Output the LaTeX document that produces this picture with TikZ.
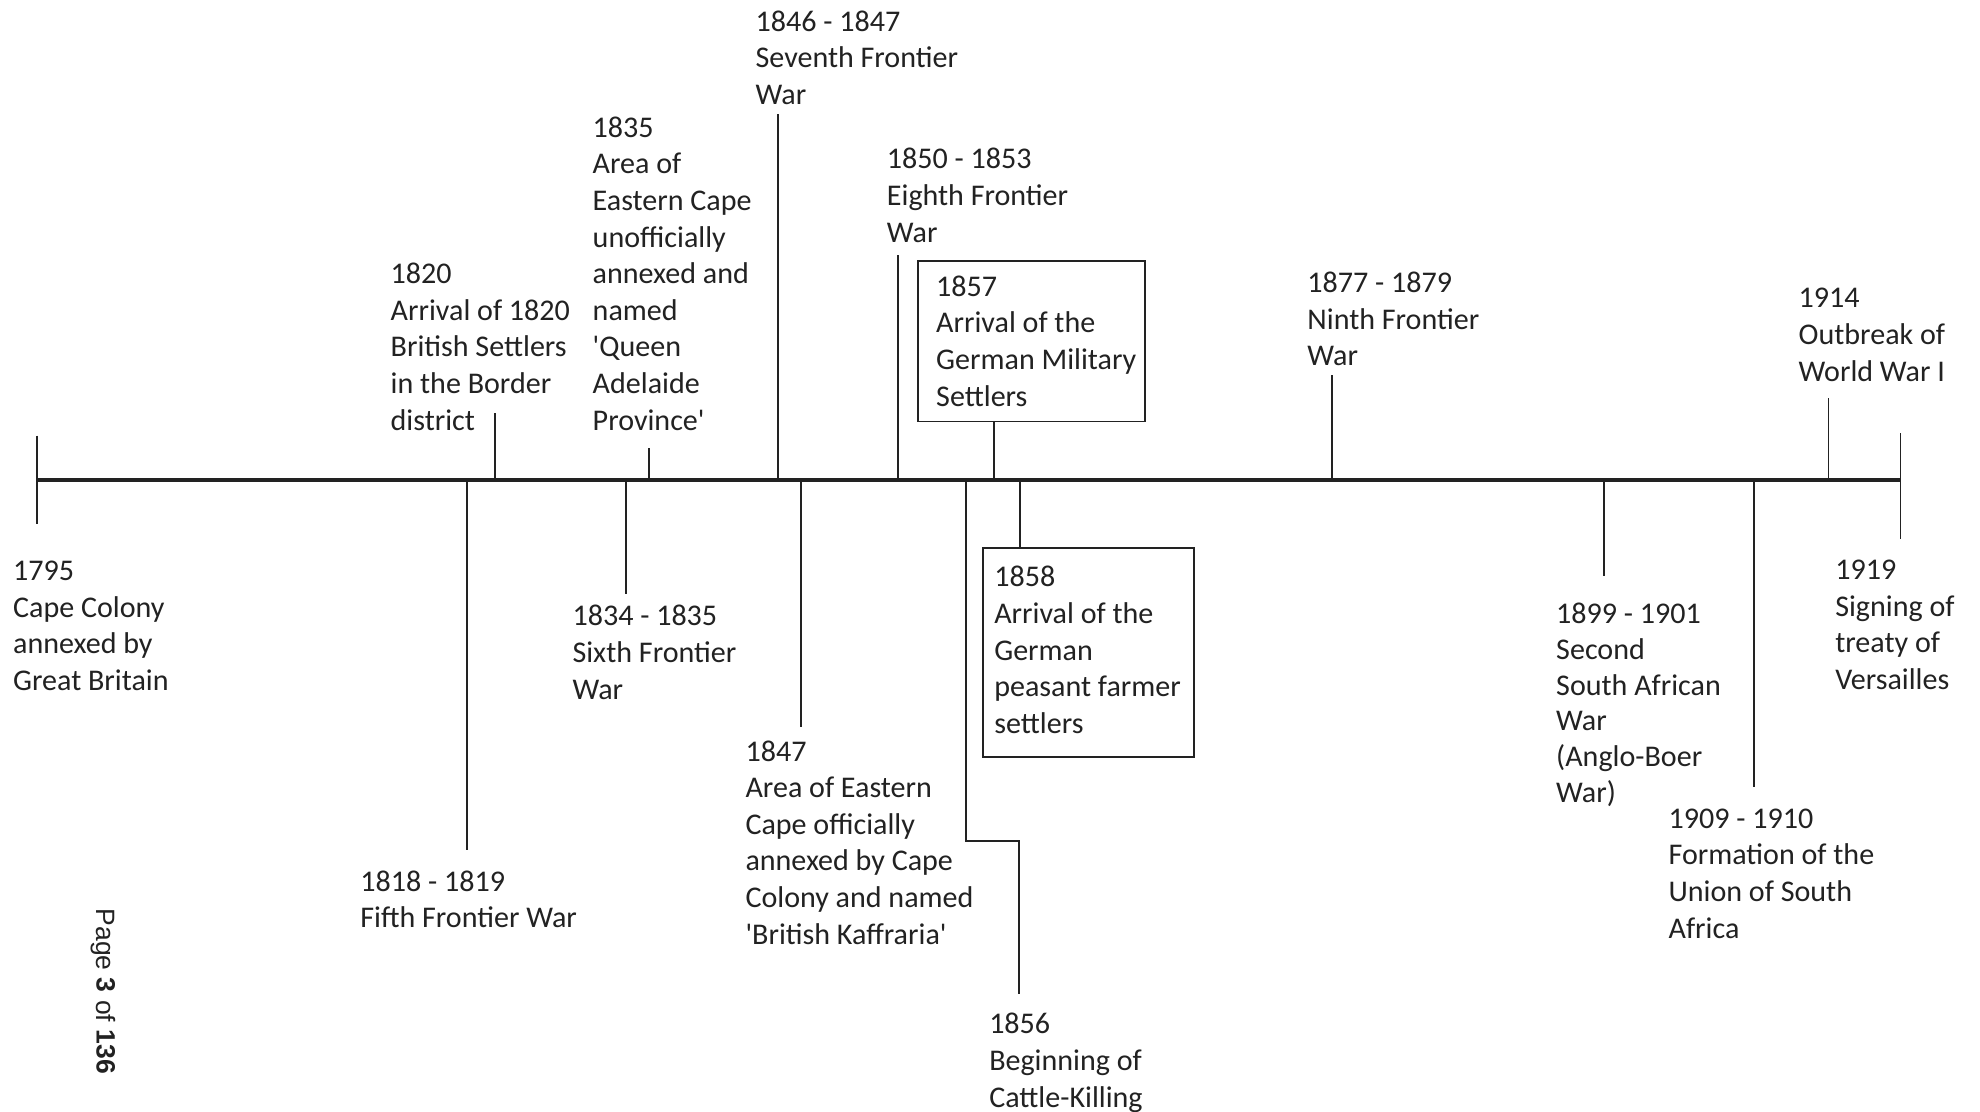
\documentclass[tikz,border=0pt]{standalone}
\usepackage{fontspec}
\setmainfont{Carlito}
\newfontfamily\pagefont{Liberation Sans}
\definecolor{ink}{RGB}{34,34,34}
\newcommand\lblfont{\fontsize{11.9pt}{14.5pt}\selectfont}
\newcommand\lblfonttight{\fontsize{11.9pt}{14.2pt}\selectfont}
\tikzset{
  lbl/.style={anchor=north west, align=left, inner sep=0pt, font=\lblfont, text=ink},
  tickline/.style={line width=0.75pt, draw=ink},
  axisline/.style={line width=1.8pt, draw=ink},
  evbox/.style={draw=ink, line width=0.75pt, anchor=north west, inner sep=0pt}
}
\begin{document}
\begin{tikzpicture}[x=0.5pt,y=-0.5pt]
\useasboundingbox (0,0) rectangle (1568,880);
\fill[white] (0,0) rectangle (1568,880);
\clip (0,0) rectangle (1568,880);

% axis
\coordinate (ax0) at (29,380);
\coordinate (ax1) at (1505,380);
\draw[axisline] (ax0) -- (ax1);

% end ticks
\coordinate (s1795) at (29,345);
\coordinate (e1795) at (29,415);
\draw[tickline] (s1795) -- (e1795);
\coordinate (s1919) at (1505,343);
\coordinate (e1919) at (1505,427);
\draw[tickline] (s1919) -- (e1919);

% event ticks
\foreach \n/\x/\y in {1818/370/673, 1820/392/327, 1834/496/470, 1835/514/355,
                      1846/616/90, 1847/634/576, 1850/711/202, 1857/787/333,
                      1858/808/433, 1877/1055/297, 1899/1270/456, 1909/1389/623,
                      1914/1448/315}{
  \coordinate (x\n) at (\x,380);
  \coordinate (e\n) at (\x,\y);
  \draw[tickline] (x\n) -- (e\n);
}
% 1856 stepped connector
\coordinate (x1856) at (765,380);
\coordinate (k1856) at (807,666);
\coordinate (e1856) at (807,787);
\draw[tickline] (x1856) |- (k1856) -- (e1856);

% boxes
\node[evbox, minimum width=90pt, minimum height=63.5pt] (b1857) at (726,206) {};
\node[evbox, minimum width=83.5pt, minimum height=83pt] (b1858) at (778,433) {};

% labels
\node[lbl] (t1795) at (10,444) {1795\\Cape Colony\\annexed by\\Great Britain};
\node[lbl] (t1818) at (285,689) {1818 - 1819\\Fifth Frontier War};
\node[lbl] (t1820) at (309,208) {1820\\Arrival of 1820\\British Settlers\\in the Border\\district};
\node[lbl] (t1834) at (453,479) {1834 - 1835\\Sixth Frontier\\War};
\node[lbl] (t1835) at (469,92) {1835\\Area of\\Eastern Cape\\unofficially\\annexed and\\named\\\textquotesingle Queen\\Adelaide\\Province\textquotesingle};
\node[lbl] (t1846) at (598,8) {1846 - 1847\\Seventh Frontier\\War};
\node[lbl] (t1847) at (590,586) {1847\\Area of Eastern\\Cape officially\\annexed by Cape\\Colony and named\\\textquotesingle British Kaffraria\textquotesingle};
\node[lbl] (t1850) at (702,117) {1850 - 1853\\Eighth Frontier\\War};
\node[lbl] (t1857) at (741,218) {1857\\Arrival of the\\German Military\\Settlers};
\node[lbl] (t1856) at (783,802) {1856\\Beginning of\\Cattle-Killing};
\node[lbl] (t1858) at (787,448) {1858\\Arrival of the\\German\\peasant farmer\\settlers};
\node[lbl] (t1877) at (1035,215) {1877 - 1879\\Ninth Frontier\\War};
\node[lbl, font=\lblfonttight] (t1899) at (1232,477) {1899 - 1901\\Second\\South African\\War\\(Anglo-Boer\\War)};
\node[lbl] (t1909) at (1321,640) {1909 - 1910\\Formation of the\\Union of South\\Africa};
\node[lbl] (t1914) at (1424,228) {1914\\Outbreak of\\World War I};
\node[lbl] (t1919) at (1453,443) {1919\\Signing of\\treaty of\\Versailles};

% page number
\node[rotate=-90, inner sep=0pt, font=\pagefont\fontsize{10.5pt}{12pt}\selectfont, text=ink] (pg) at (82,785) {Page \textbf{3} of \textbf{136}};
\end{tikzpicture}
\end{document}
